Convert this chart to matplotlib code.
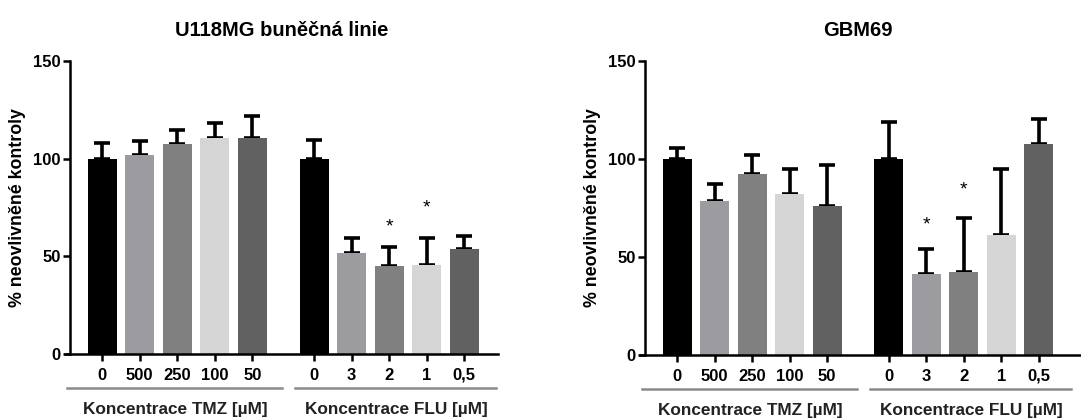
import numpy as np
import matplotlib.pyplot as plt

plt.rcParams['font.family'] = ['Liberation Sans', 'DejaVu Sans']
plt.rcParams['font.weight'] = 'bold'
plt.rcParams['axes.titleweight'] = 'bold'
plt.rcParams['axes.labelweight'] = 'bold'

tmz_labels = ['0', '500', '250', '100', '50']
flu_labels = ['0', '3', '2', '1', '0,5']

# U118MG
u_tmz = [100, 102, 107.5, 110.5, 110.8]
u_tmz_err = [8, 7, 7.2, 7.8, 11.2]
u_flu = [100, 51.6, 45, 45.6, 54]
u_flu_err = [9.5, 8, 10, 13.6, 6.4]
u_stars = {2: 65, 3: 74.6}

# GBM69
g_tmz = [100, 78.6, 92.5, 82, 76.2]
g_tmz_err = [5.4, 8.6, 9.4, 13, 20.9]
g_flu = [100, 41.2, 42.2, 61, 107.5]
g_flu_err = [18.7, 12.9, 27.5, 34, 12.9]
g_stars = {1: 66.3, 2: 84.3}

colors = ['#000000', '#9c9ca0', '#808080', '#d5d5d5', '#616161']
gap = 5.65


def panel(ax, title, tmz, tmz_err, flu, flu_err, stars, xmax, title_x):
    x_tmz = np.arange(5)
    x_flu = np.arange(5) + gap
    x = np.concatenate([x_tmz, x_flu])
    vals = tmz + flu
    errs = tmz_err + flu_err
    ax.bar(x, vals, width=0.77, color=colors * 2, zorder=2)
    ax.errorbar(x, vals, yerr=[np.zeros(10), errs], fmt='none', ecolor='black',
                elinewidth=2.6, capsize=6, capthick=2.6, zorder=1)
    for i, h in stars.items():
        ax.text(x_flu[i], h, '*', ha='center', va='center', fontsize=14, fontweight='normal')
    ax.set_xlim(-0.99, xmax)
    ax.set_ylim(0, 150)
    ax.set_yticks([0, 50, 100, 150])
    ax.set_xticks(x)
    ax.set_xticklabels(tmz_labels + flu_labels, fontweight='bold')
    for t in ax.get_yticklabels():
        t.set_fontweight('bold')
    ax.tick_params(axis='both', labelsize=12, width=1.8, length=5, pad=2)
    ax.tick_params(axis='x', pad=5)
    for s in ['top', 'right']:
        ax.spines[s].set_visible(False)
    ax.spines['left'].set_position(('data', -0.85))
    ax.spines['left'].set_linewidth(1.8)
    ax.spines['bottom'].set_linewidth(1.8)
    ax.set_ylabel('% neovlivněné kontroly', fontsize=12.8, labelpad=5)
    ax.set_title(title, fontsize=14.5, pad=18, x=title_x)
    # group lines and labels under the tick labels
    trans = ax.get_xaxis_transform()
    ax.plot([-0.93, 4.8], [-0.115, -0.115], color='#8a8a8a', lw=1.8,
            transform=trans, clip_on=False)
    ax.plot([gap - 0.5, gap + 4.85], [-0.115, -0.115], color='#8a8a8a', lw=1.8,
            transform=trans, clip_on=False)
    ax.text(1.95, -0.19, 'Koncentrace TMZ [µM]', ha='center', va='center',
            fontsize=12.4, color='#222222', transform=trans)
    ax.text(gap + 2.2, -0.19, 'Koncentrace FLU [µM]', ha='center', va='center',
            fontsize=12.4, color='#222222', transform=trans)


fig = plt.figure(figsize=(10.81, 4.18), dpi=100)
ax1 = fig.add_axes([65 / 1081, 1 - 354 / 418, 433 / 1081, 293 / 418])
ax2 = fig.add_axes([640 / 1081, 1 - 355 / 418, 445 / 1081, 294 / 418])
panel(ax1, 'U118MG buněčná linie', u_tmz, u_tmz_err, u_flu, u_flu_err, u_stars, 10.55, 0.5)
panel(ax2, 'GBM69', g_tmz, g_tmz_err, g_flu, g_flu_err, g_stars, 10.88, 0.49)

fig.savefig('out.png', dpi=100)
